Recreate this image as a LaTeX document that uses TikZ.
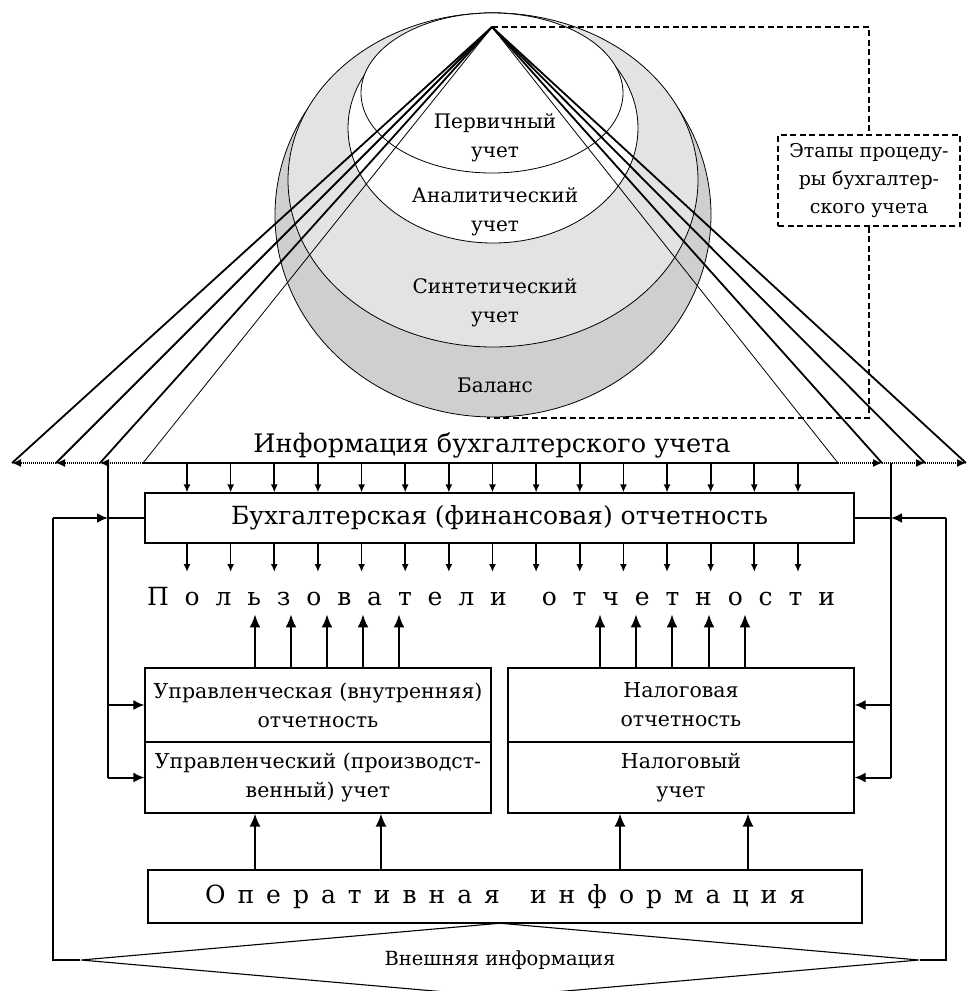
\documentclass[tikz,border=0pt]{standalone}
\usepackage{fontspec}
\setmainfont{DejaVu Serif}
\usetikzlibrary{arrows.meta,shapes.geometric}
\definecolor{sphA}{HTML}{CFCFCF}
\definecolor{sphB}{HTML}{E3E3E3}
\begin{document}
\begin{tikzpicture}[x=1pt,y=-1pt,
 thinln/.style={line width=0.8pt},
 thickln/.style={line width=1.8pt},
 hatch/.style={line width=1.4pt,dash pattern=on 1pt off 1pt},
 tipA/.style={-{Latex[length=9pt,width=8pt]}},
 darr/.style={line width=1.7pt,-{Latex[length=8pt,width=7pt]}},
 uarr/.style={line width=1.9pt,-{Latex[length=13pt,width=11pt]}},
 sarr/.style={line width=2pt,-{Latex[length=11pt,width=10pt]}},
 vline/.style={line width=1.1pt},
 box/.style={draw,line width=1.1pt,inner sep=0pt,align=center,font=\fontsize{20.5}{29}\selectfont},
 lbl/.style={align=center,font=\fontsize{20}{29}\selectfont},
 dsh/.style={line width=1.6pt,dash pattern=on 6pt off 3.5pt}
]
\useasboundingbox (0,0) rectangle (967,991);
\fill[white] (0,0) rectangle (967,991);

% sphere
\filldraw[fill=sphA,draw=black,line width=0.8pt] (493,215) ellipse [x radius=218, y radius=202];
\filldraw[fill=sphB,draw=black,line width=0.8pt] (493,180) ellipse [x radius=205, y radius=167];
\filldraw[fill=white,draw=black,line width=0.8pt] (493,128) ellipse [x radius=145, y radius=115];
\filldraw[fill=white,draw=black,line width=0.8pt] (492,93) ellipse [x radius=131, y radius=80];

\node[lbl] (perv) at (495,138) {Первичный\\учет};
\node[lbl] (anal) at (495,212) {Аналитический\\учет};
\node[lbl] (sint) at (495,303) {Синтетический\\учет};
\node[lbl] (bal) at (495,385) {Баланс};

\coordinate (apex) at (492,27);

% stages box
\node[draw,dsh,align=center,font=\fontsize{19}{28}\selectfont,minimum width=182pt,minimum height=91pt,inner sep=0pt] (stage) at (869,180.5) {Этапы процеду-\\ры бухгалтер-\\ского учета};
\draw[dsh] (apex) -- (apex -| stage.north) -- (stage.north);
\draw[dsh] (stage.south) -- (869,418) -- (487,418);

% information line
\node[font=\fontsize{25.5}{30}\selectfont,anchor=base] (info) at (492,452) {Информация бухгалтерского учета};
\coordinate (L0) at (143,463);
\coordinate (L1) at (100,463);
\coordinate (L2) at (56,463);
\coordinate (L3) at (12,463);
\coordinate (R0) at (838,463);
\coordinate (R1) at (882,463);
\coordinate (R2) at (925,463);
\coordinate (R3) at (966,463);
\draw[vline] (L0) -- (R0);
\draw[thinln] (apex) -- (L0);
\draw[thinln] (apex) -- (R0);
\foreach \p in {L1,L2,L3,R1,R2,R3} \draw[thickln] (apex) -- (\p);
\draw[hatch,tipA] (L0) -- (L1);
\draw[hatch,tipA] (L1) -- (L2);
\draw[hatch,tipA] (L2) -- (L3);
\draw[hatch,tipA] (R0) -- (R1);
\draw[hatch,tipA] (R1) -- (R2);
\draw[hatch,tipA] (R2) -- (R3);

% financial statements
\node[box,minimum width=709pt,minimum height=50pt,font=\fontsize{25}{30}\selectfont] (buh) at (499.5,518) {Бухгалтерская (финансовая) отчетность};
\foreach \i in {0,...,14} {
  \pgfmathsetmacro\xx{187+43.64*\i}
  \coordinate (t) at (\xx,463);
  \draw[darr] (t) -- (t |- buh.north);
  \coordinate (b) at (\xx,543);
  \draw[darr] (b) -- ++(0,29);
}

% users
\node[font=\fontsize{25}{30}\selectfont] (users) at (491,597) {\hbox to 688pt{П\hfill о\hfill л\hfill ь\hfill з\hfill о\hfill в\hfill а\hfill т\hfill е\hfill л\hfill и\hskip 0pt plus 2.2fill о\hfill т\hfill ч\hfill е\hfill т\hfill н\hfill о\hfill с\hfill т\hfill и}};

% lower boxes
\node[box,minimum width=346pt,minimum height=74pt] (upr) at (318,705) {Управленческая (внутренняя)\\отчетность};
\node[box,minimum width=346pt,minimum height=71pt] (uprU) at (318,777.5) {Управленческий (производст-\\венный) учет};
\node[box,minimum width=346pt,minimum height=74pt] (nal) at (681,705) {Налоговая\\отчетность};
\node[box,minimum width=346pt,minimum height=71pt] (nalU) at (681,777.5) {Налоговый\\учет};

\foreach \xx in {255,291,327,363,399} {
  \coordinate (u) at (\xx,0);
  \draw[uarr] (u |- upr.north) -- ++(0,-53);
}
\foreach \xx in {600,636,672,709,745} {
  \coordinate (u) at (\xx,0);
  \draw[uarr] (u |- nal.north) -- ++(0,-53);
}

% operational info
\node[box,minimum width=714pt,minimum height=53pt,font=\fontsize{25}{30}\selectfont] (oper) at (505,896.5) {\hbox to 600pt{О\hfill п\hfill е\hfill р\hfill а\hfill т\hfill и\hfill в\hfill н\hfill а\hfill я\hskip 0pt plus 2.5fill и\hfill н\hfill ф\hfill о\hfill р\hfill м\hfill а\hfill ц\hfill и\hfill я}};
\foreach \xx in {255,381} {
  \coordinate (u) at (\xx,0);
  \draw[uarr] (u |- oper.north) -- (u |- uprU.south);
}
\foreach \xx in {620,748} {
  \coordinate (u) at (\xx,0);
  \draw[uarr] (u |- oper.north) -- (u |- nalU.south);
}

% external info
\node[diamond,draw,line width=1.1pt,aspect=11.3,minimum width=838pt,minimum height=74pt,inner sep=0pt,font=\fontsize{19.5}{24}\selectfont] (ext) at (500,960) {Внешняя информация};

% feedback loops left
\coordinate (LV) at (108,463);
\coordinate (LO) at (53,518);
\draw[vline] (LV) -- (108,778);
\draw[sarr] (108,705) -- (upr.west);
\draw[sarr] (108,777.5) -- (uprU.west);
\draw[vline] (ext.west) -- (ext.west -| LO) -- (LO);
\draw[sarr] (LO) -- (108,518);
\draw[vline] (108,518) -- (buh.west);

% feedback loops right
\coordinate (RV) at (891,463);
\coordinate (RO) at (946,518);
\draw[vline] (RV) -- (891,778);
\draw[sarr] (891,705) -- (nal.east);
\draw[sarr] (891,777.5) -- (nalU.east);
\draw[vline] (ext.east) -- (ext.east -| RO) -- (RO);
\draw[sarr] (RO) -- (891,518);
\draw[vline] (891,518) -- (buh.east);
\end{tikzpicture}
\end{document}
